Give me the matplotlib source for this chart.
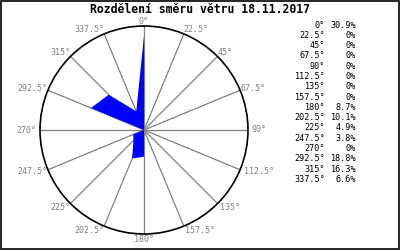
import matplotlib
matplotlib.use('Agg')
import matplotlib.pyplot as plt
import numpy as np

# wind direction distribution (percent)
directions = [0, 22.5, 45, 67.5, 90, 112.5, 135, 157.5,
              180, 202.5, 225, 247.5, 270, 292.5, 315, 337.5]
percents = [30.9, 0, 0, 0, 0, 0, 0, 0,
            8.7, 10.1, 4.9, 3.8, 0, 18.8, 16.3, 6.6]
pct_labels = ['30.9%', '0%', '0%', '0%', '0%', '0%', '0%', '0%',
              '8.7%', '10.1%', '4.9%', '3.8%', '0%', '18.8%', '16.3%', '6.6%']
title = 'Rozdělení směru větru 18.11.2017'

rmax = 34.0
mono = 'DejaVu Sans Mono'

fig = plt.figure(figsize=(4, 2.5), dpi=100)
fig.patch.set_facecolor('white')

ax = fig.add_axes([0.1, 0.064, 0.52, 0.832], projection='polar')
ax.set_theta_zero_location('N')
ax.set_theta_direction(-1)
ax.set_ylim(0, rmax)
ax.grid(False)
ax.set_xticks([])
ax.set_yticks([])
ax.spines['polar'].set_color('black')
ax.spines['polar'].set_linewidth(1.2)

theta = np.deg2rad(directions)

# spokes + labels at the outer end of each spoke
for t, d in zip(theta, directions):
    ax.plot([t, t], [0, rmax], color='#808080', lw=0.9, zorder=1)
    s, c = np.sin(t), np.cos(t)
    if s > 0.01:
        ha = 'left'
    elif s < -0.01:
        ha = 'right'
    else:
        ha = 'center'
    if s > 0 and c < 0.1:
        dx = 4 * s
    elif s < -0.99:
        dx = -4
    else:
        dx = 0
    dy = 5 * c
    ax.annotate(f'{d:g}°', xy=(t, rmax), xytext=(dx, dy), textcoords='offset pixels',
                ha=ha, va='center', fontsize=6.0, family=mono,
                color='#808080', annotation_clip=False)

# filled polygon of the distribution
tt = np.append(theta, theta[0])
rr = np.append(percents, percents[0])
ax.fill(tt, rr, color='#0000ff', lw=0, zorder=3)

# title
fig.text(0.5, 0.963, title, ha='center', va='center', fontsize=8.3,
         fontweight='bold', family=mono, color='black')

# table on the right
for i, (d, p) in enumerate(zip(directions, pct_labels)):
    y = 1 - (25 + 10.3 * i) / 250
    fig.text(325 / 400, y, f'{d:g}°', ha='right', va='center',
             fontsize=6.1, family=mono, color='black')
    fig.text(356 / 400, y, p, ha='right', va='center',
             fontsize=6.1, family=mono, color='black')

# outer border
fig.patches.append(plt.Rectangle((0.002, 0.003), 0.995, 0.993, transform=fig.transFigure,
                                 fill=False, edgecolor='black', lw=1.2))

fig.savefig('out.png', dpi=100)
